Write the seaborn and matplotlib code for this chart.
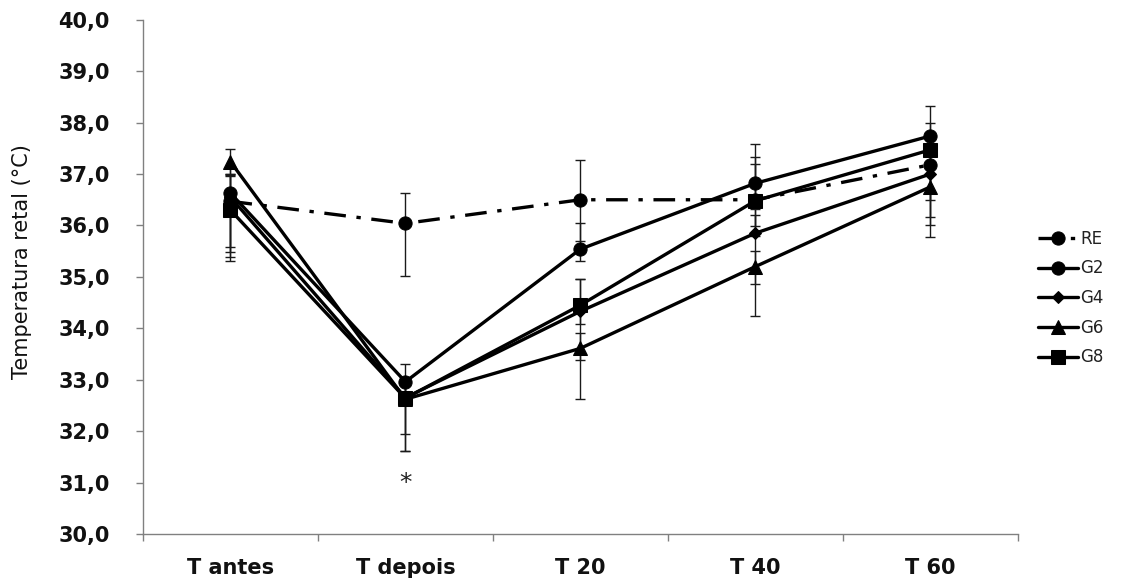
import matplotlib
matplotlib.use("Agg")
import matplotlib.pyplot as plt
import matplotlib.ticker as mticker
import seaborn as sns

# ---- data ----
times = ["T antes", "T depois", "T 20", "T 40", "T 60"]
series_names = ["RE", "G2", "G4", "G6", "G8"]

re_vals = [36.47, 36.04, 36.50, 36.50, 37.18]
g2_vals = [36.63, 32.96, 35.54, 36.82, 37.74]
g4_vals = [36.55, 32.65, 34.33, 35.85, 37.00]
g6_vals = [37.24, 32.62, 33.61, 35.20, 36.75]
g8_vals = [36.30, 32.64, 34.45, 36.48, 37.47]

# error bar lengths (below / above the mean)
re_err_lo = [1.09, 1.02, 0.80, 0.70, 1.01]
re_err_hi = [0.50, 0.60, 0.78, 0.70, 0.50]
g2_err_lo = [1.05, 0.30, 0.24, 0.50, 0.50]
g2_err_hi = [0.49, 0.35, 0.50, 0.77, 0.59]
g4_err_lo = [1.06, 0.70, 0.94, 0.99, 0.99]
g4_err_hi = [0.45, 0.30, 0.62, 0.36, 0.40]
g6_err_lo = [0.25, 1.00, 0.99, 0.97, 0.97]
g6_err_hi = [0.25, 0.30, 0.30, 0.30, 0.40]
g8_err_lo = [1.00, 1.02, 0.36, 0.50, 0.97]
g8_err_hi = [0.70, 0.30, 0.50, 0.85, 0.53]

y_ticks = [30, 31, 32, 33, 34, 35, 36, 37, 38, 39, 40]
star_label = "*"

values = {"RE": re_vals, "G2": g2_vals, "G4": g4_vals, "G6": g6_vals, "G8": g8_vals}
errs = {"RE": (re_err_lo, re_err_hi), "G2": (g2_err_lo, g2_err_hi),
        "G4": (g4_err_lo, g4_err_hi), "G6": (g6_err_lo, g6_err_hi),
        "G8": (g8_err_lo, g8_err_hi)}

# ---- styles ----
markers = {"RE": "o", "G2": "o", "G4": "D", "G6": "^", "G8": "s"}
msizes = {"RE": 9.5, "G2": 9.5, "G4": 6.0, "G6": 10.0, "G8": 10.5}
lstyles = {"RE": (0, (6.5, 3.2, 1.3, 3.2)), "G2": "-", "G4": "-", "G6": "-", "G8": "-"}

sns.set_theme(style="white")
plt.rcParams["font.family"] = ["DejaVu Sans"]

fig = plt.figure(figsize=(11.23, 5.87), dpi=100)
ax = fig.add_axes([0.1273, 0.0903, 0.779, 0.876])

for name in series_names:
    lo, hi = errs[name]
    ax.errorbar(times, values[name], yerr=[lo, hi], fmt="none", ecolor="#1a1a1a",
                elinewidth=1.0, capsize=3.6, capthick=1.0, zorder=2)

for name in series_names:
    sns.lineplot(x=times, y=values[name], ax=ax, sort=False, color="black",
                 marker=markers[name], markersize=msizes[name],
                 markeredgecolor="black", markerfacecolor="black",
                 linewidth=2.4, linestyle=lstyles[name], label=name, zorder=3)

ax.text(times[1], 31.0, star_label, ha="center", va="center", fontsize=18, color="#222222")

ax.set_ylim(30, 40)
ax.set_xlim(-0.5, 4.5)
ax.set_yticks(y_ticks)
ax.set_yticklabels([f"{v:.1f}".replace(".", ",") for v in y_ticks],
                   fontsize=15, fontweight="bold", color="#111111")
for lab in ax.get_xticklabels():
    lab.set_fontsize(15)
    lab.set_fontweight("bold")
    lab.set_color("#111111")

ax.xaxis.set_minor_locator(mticker.FixedLocator([-0.5, 0.5, 1.5, 2.5, 3.5, 4.5]))
ax.tick_params(axis="x", which="major", length=0, pad=17)
ax.tick_params(axis="x", which="minor", length=5, width=1.0, color="#808080", direction="out", bottom=True)
ax.tick_params(axis="y", which="major", length=5, width=1.0, color="#808080", direction="out", left=True, pad=19)

for s in ["top", "right"]:
    ax.spines[s].set_visible(False)
for s in ["left", "bottom"]:
    ax.spines[s].set_color("#808080")
    ax.spines[s].set_linewidth(1.0)

ax.set_xlabel("")
ax.set_ylabel("")
fig.text(0.020, 0.555, "Temperatura retal (°C)", rotation=90, ha="center", va="center",
         fontsize=15, family=["Liberation Sans Narrow", "DejaVu Sans"], color="#111111")

ax.grid(False)
leg = ax.legend(loc="upper left", bbox_to_anchor=(0.918, 0.62), bbox_transform=fig.transFigure,
                frameon=False, fontsize=12, labelspacing=0.7, handlelength=2.4,
                handletextpad=0.15, borderaxespad=0)
for t in leg.get_texts():
    t.set_family(["Liberation Sans Narrow", "DejaVu Sans"])
    t.set_color("#222222")

fig.savefig("out.png", dpi=100, facecolor="white")
